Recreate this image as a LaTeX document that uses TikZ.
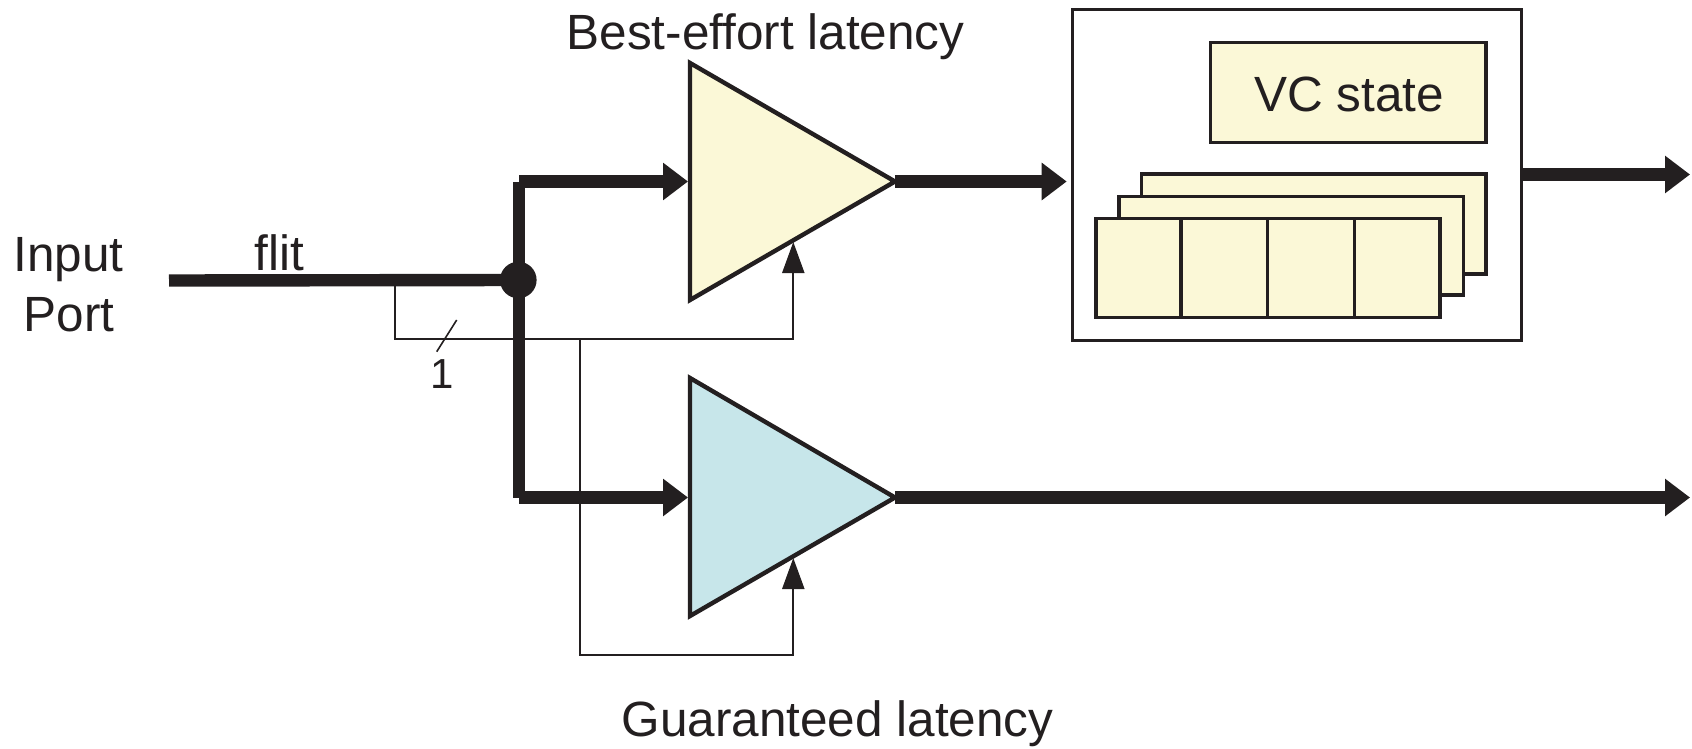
\documentclass[tikz,border=0pt]{standalone}
\usepackage{fontspec}
\setmainfont{Liberation Sans}
\usetikzlibrary{arrows.meta}
\definecolor{ink}{HTML}{231F20}
\definecolor{beFill}{HTML}{FBF8D7}
\definecolor{glFill}{HTML}{C7E6EA}

\begin{document}
\begin{tikzpicture}[x=0.5pt,y=-0.5pt,
  bus/.style={draw=ink, line width=6.2pt, line cap=butt},
  busarrow/.style={bus, -{Triangle[length=12.5pt,width=18pt]}},
  ctrl/.style={draw=ink, line width=1.1pt},
  ctrlarrow/.style={ctrl, -{Triangle[length=15.5pt,width=11pt]}},
  amp/.style={draw=ink, line width=2.2pt, line join=miter},
  card/.style={draw=ink, fill=beFill, line width=1.7pt},
  label/.style={font=\fontsize{24.75pt}{30pt}\selectfont, text=ink, inner sep=0pt, anchor=base},
]
\useasboundingbox (0,0) rectangle (1692,749);

% amplifiers (arbitration stages)
\draw[amp, fill=beFill] (690,63) -- (895,181.5) -- (690,300) -- cycle;
\draw[amp, fill=glFill] (690,378) -- (895,497.5) -- (690,616) -- cycle;

% virtual-channel block
\node[draw=ink, line width=1.5pt, minimum width=224.15pt, minimum height=165pt, inner sep=0pt]
  (vcbox) at (1296.85,175) {};
\node[card, minimum width=137.65pt, minimum height=49.8pt, inner sep=0pt]
  (vcstate) at (1348.35,92.5) {};
\node[label] (vctext) at (1349,111.7) {VC state};
\draw[card] (1141.7,174) rectangle (1486,274);
\draw[card] (1119,196.7) rectangle (1463.3,295);
\draw[card] (1096,218.3) rectangle (1440,317.7);
\foreach \xx in {1181,1267.5,1354.3}
  \draw[ink, line width=1.7pt] (\xx,218.3) -- (\xx,317.7);

% named points
\coordinate (in) at (169,280.5);
\coordinate (tee) at (519,181.5);
\coordinate (bee) at (519,497.5);
\coordinate (be-in) at (688,181.5);
\coordinate (gl-in) at (688,497.5);
\coordinate (be-out) at (895,181.5);
\coordinate (gl-out) at (895,497.5);
\coordinate (vc-in) at (1066.7,181.5);
\coordinate (vc-out) at (1521,174.5);
\coordinate (vc-end) at (1690,174.5);
\coordinate (gl-end) at (1690,497.5);
\coordinate (tap) at (395,282);
\coordinate (fork) at (580,339.3);
\coordinate (be-ctl) at (793.3,242);
\coordinate (gl-ctl) at (793.3,558);
\coordinate (gl-low) at (793.3,655);

% control lines
\draw[ctrlarrow] (tap) |- (be-ctl |- fork) -- (be-ctl);
\draw[ctrlarrow] (fork) |- (gl-low) -- (gl-ctl);
\draw[ink, line width=0.8pt] (456.7,320) -- (436.7,351.7);

% data path
\node[circle, fill=ink, minimum size=18.3pt, inner sep=0pt] (split) at (518.3,280) {};
\draw[bus] (in) -- (split.center);
\draw[bus] (tee) -- (bee);
\draw[busarrow] (tee) -- (be-in);
\draw[busarrow] (bee) -- (gl-in);
\draw[busarrow] (be-out) -- (vc-in);
\draw[busarrow] (gl-out) -- (gl-end);
\draw[busarrow] (vc-out) -- (vc-end);

% labels
\node[label] (inlbl) at (68.5,271) {Input};
\node[label] (portlbl) at (69,331) {Port};
\node[label] (flit) at (279.5,270) {flit};
\node[label, font=\fontsize{21pt}{25pt}\selectfont] (width) at (442,388) {1};
\node[label] (belbl) at (765.5,50) {Best-effort latency};
\node[label] (gllbl) at (837.5,736.7) {Guaranteed latency};
\end{tikzpicture}
\end{document}
